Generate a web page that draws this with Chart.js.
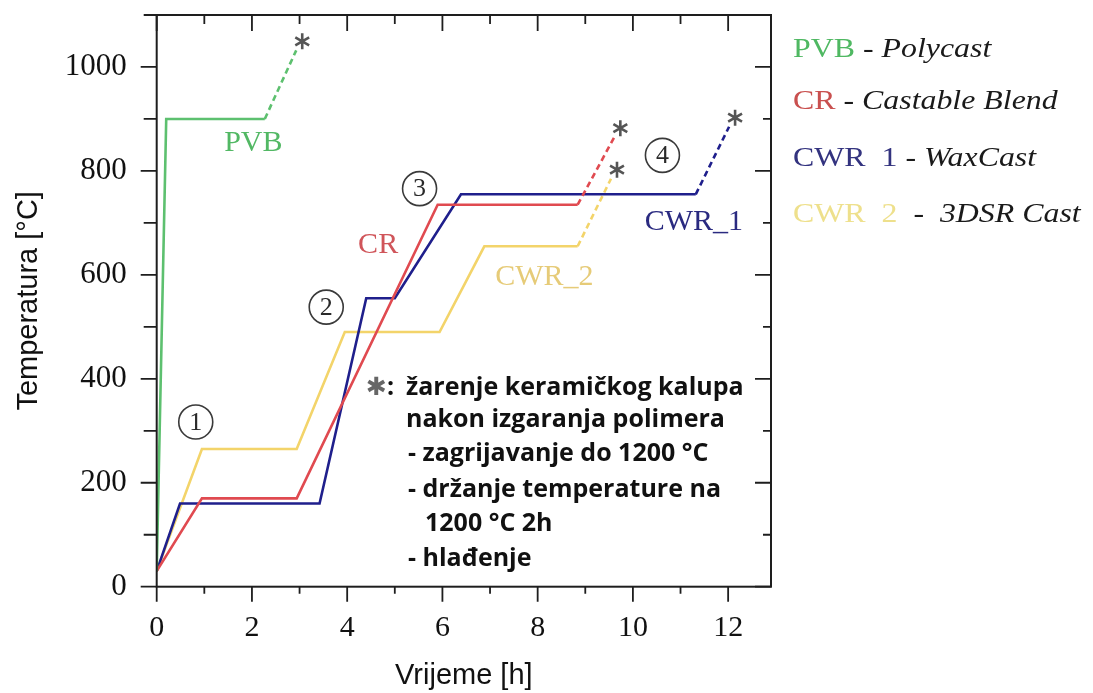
<!DOCTYPE html>
<html><head><meta charset="utf-8">
<script src="https://cdn.jsdelivr.net/npm/chart.js@4.4.1/dist/chart.umd.min.js"></script>
<style>
html,body{margin:0;padding:0;background:#fff;width:1093px;height:693px;overflow:hidden}
#wrap{position:relative;width:1093px;height:693px}
canvas{position:absolute;left:0;top:0}
.lg{position:absolute;left:793px;font-family:"Liberation Serif",serif;font-size:27px;color:#1a1a1a;white-space:nowrap;line-height:32px;transform:scaleX(1.18);transform-origin:0 50%}
.lg i{font-style:italic}
.nt{position:absolute;font-family:"Open Sans",sans-serif;font-weight:700;font-size:25px;color:#111;white-space:nowrap;line-height:30px}
</style></head>
<body><div id="wrap"><canvas id="c" width="1093" height="693"></canvas>
<div class="lg" style="top:32px"><span style="color:#4FB862">PVB</span> - <i>Polycast</i></div>
<div class="lg" style="top:84px"><span style="color:#C9504F">CR</span> - <i>Castable Blend</i></div>
<div class="lg" style="top:141px"><span style="color:#33337F">CWR&nbsp;&nbsp;1</span> - <i>WaxCast</i></div>
<div class="lg" style="top:197px"><span style="color:#EEE08C">CWR&nbsp;&nbsp;2</span>&nbsp;&nbsp;- &nbsp;<i>3DSR Cast</i></div>
<div class="nt" style="left:366px;top:370px"><span style="color:#666;font-family:'DejaVu Sans'">✱</span>:</div>
<div class="nt" style="left:406px;top:370px">žarenje keramičkog kalupa</div>
<div class="nt" style="left:406px;top:402px">nakon izgaranja polimera</div>
<div class="nt" style="left:408px;top:436px">- zagrijavanje do 1200 °C</div>
<div class="nt" style="left:408px;top:472px">- držanje temperature na</div>
<div class="nt" style="left:425px;top:506px">1200 °C 2h</div>
<div class="nt" style="left:408px;top:541px">- hlađenje</div>
</div>
<script>
// ---- data (time in h, temperature in °C) ----
const seriesNames = ["PVB", "CR", "CWR_1", "CWR_2"];
const pvbTime  = [0, 0.2, 2.27, 2.93];
const pvbTemp  = [30, 900, 900, 1032];
const crTime   = [0, 0.95, 2.94, 5.9, 8.84, 9.61];
const crTemp   = [30, 170, 170, 735, 735, 865];
const cwr1Time = [0, 0.49, 3.42, 4.4, 5.0, 6.39, 11.32, 12.02];
const cwr1Temp = [30, 160, 160, 555, 555, 755, 755, 885];
const cwr2Time = [0, 0.95, 2.94, 3.95, 5.94, 6.88, 8.84, 9.54];
const cwr2Temp = [30, 265, 265, 490, 490, 655, 655, 785];
const xTickLabels = [0, 2, 4, 6, 8, 10, 12];
const yTickLabels = [0, 200, 400, 600, 800, 1000];
const stepMarks = ["1", "2", "3", "4"];

// annotation placement (data coordinates)
const seriesLabelPos = [[2.03, 853], [4.65, 657], [11.28, 702], [8.14, 596]];
const stepMarkPos = [[0.82, 317], [3.56, 538], [5.52, 766], [10.62, 830]];

const lineColors  = ["#5DC06F", "#E04A50", "#1F1F8C", "#F3D46A"];
const labelColors = ["#52B864", "#D0555A", "#2A2A80", "#E6CB78"];

function pts(t, v){ return t.map((x,i)=>({x, y:v[i]})); }
const seriesData = [pts(pvbTime,pvbTemp), pts(crTime,crTemp), pts(cwr1Time,cwr1Temp), pts(cwr2Time,cwr2Temp)];

const dashLast = c => {
  const n = c.chart.data.datasets[c.datasetIndex].data.length;
  return c.p1DataIndex === n - 1 ? [6, 4] : undefined;
};

const extras = {
  id: 'extras',
  afterDatasetsDraw(chart){
    const {ctx, chartArea:a, scales:{x, y}} = chart;
    ctx.save();
    // frame
    ctx.strokeStyle = '#1e1e1e'; ctx.lineWidth = 2;
    ctx.strokeRect(a.left, a.top, a.right - a.left, a.bottom - a.top);
    // ticks
    ctx.lineWidth = 1.8;
    for (let h = 0; h <= 12; h++) {
      const px = x.getPixelForValue(h);
      const major = h % 2 === 0;
      ctx.beginPath();
      ctx.moveTo(px, a.bottom); ctx.lineTo(px, a.bottom + (major ? 15 : 7));
      ctx.moveTo(px, a.top); ctx.lineTo(px, a.top + (major ? 16 : 9));
      ctx.stroke();
    }
    for (let t = 0; t <= 1100; t += 100) {
      const py = y.getPixelForValue(t);
      const major = t % 200 === 0;
      ctx.beginPath();
      ctx.moveTo(a.left, py); ctx.lineTo(a.left - (major ? 16 : 13), py);
      ctx.moveTo(a.right, py); ctx.lineTo(a.right - (major ? 16 : 8), py);
      ctx.stroke();
    }
    // asterisks at dashed ends
    chart.data.datasets.forEach((ds, i) => {
      const meta = chart.getDatasetMeta(i);
      const el = meta.data[meta.data.length - 1];
      const cx = el.x + 6, cy = el.y - 9, r = 8;
      ctx.strokeStyle = '#555'; ctx.lineWidth = 2.6;
      ctx.beginPath();
      for (let k = 0; k < 3; k++) {
        const ang = Math.PI / 2 + k * Math.PI / 3;
        ctx.moveTo(cx + r * Math.cos(ang), cy + r * Math.sin(ang));
        ctx.lineTo(cx - r * Math.cos(ang), cy - r * Math.sin(ang));
      }
      ctx.stroke();
    });
    // series labels
    ctx.font = '30px "Liberation Serif", serif';
    ctx.textAlign = 'center'; ctx.textBaseline = 'middle';
    seriesNames.forEach((n, i) => {
      ctx.fillStyle = labelColors[i];
      ctx.fillText(n, x.getPixelForValue(seriesLabelPos[i][0]), y.getPixelForValue(seriesLabelPos[i][1]));
    });
    // circled step marks
    ctx.font = '26px "Liberation Serif", serif';
    stepMarks.forEach((m, i) => {
      const cx = x.getPixelForValue(stepMarkPos[i][0]), cy = y.getPixelForValue(stepMarkPos[i][1]);
      ctx.strokeStyle = '#3a3a3a'; ctx.lineWidth = 1.6;
      ctx.beginPath(); ctx.arc(cx, cy, 17, 0, Math.PI * 2); ctx.stroke();
      ctx.fillStyle = '#2a2a2a';
      ctx.fillText(m, cx, cy + 1);
    });
    ctx.restore();
  }
};

new Chart(document.getElementById('c'), {
  type: 'line',
  data: {
    datasets: seriesNames.map((n, i) => ({
      label: n, data: seriesData[i], borderColor: lineColors[i], backgroundColor: lineColors[i],
      borderWidth: 2.6, pointRadius: 0, tension: 0, fill: false,
      segment: { borderDash: dashLast }
    }))
  },
  options: {
    responsive: false, animation: false, devicePixelRatio: 1,
    layout: { padding: { left: 0, right: 322, top: 15, bottom: 0 } },
    plugins: { legend: { display: false }, tooltip: { enabled: false } },
    scales: {
      x: {
        type: 'linear', min: 0, max: 12.9,
        afterBuildTicks: s => { s.ticks = xTickLabels.map(v => ({ value: v })); },
        afterFit: s => { s.height = 106.3; s.paddingLeft = 0; s.paddingRight = 0; },
        grid: { display: false, drawTicks: false }, border: { display: false },
        ticks: { padding: 23, color: '#111', maxRotation: 0, autoSkip: false, callback: v => String(v),
                 font: { family: '"Liberation Serif", serif', size: 30 } },
        title: { display: true, text: 'Vrijeme [h]', color: '#111', padding: { top: 0, bottom: 0 },
                 font: { family: '"Liberation Sans", sans-serif', size: 29 } }
      },
      y: {
        type: 'linear', min: 0, max: 1100,
        afterBuildTicks: s => { s.ticks = yTickLabels.map(v => ({ value: v })); },
        afterFit: s => { s.width = 156.7; s.paddingTop = 0; s.paddingBottom = 0; },
        grid: { display: false, drawTicks: false }, border: { display: false },
        ticks: { padding: 30, color: '#111', autoSkip: false, callback: v => String(v),
                 font: { family: '"Liberation Serif", serif', size: 31 } },
        title: { display: true, text: 'Temperatura [°C]', color: '#111', padding: { top: 12, bottom: 0 },
                 font: { family: '"Liberation Sans", sans-serif', size: 29 } }
      }
    }
  },
  plugins: [extras]
});
</script>
</body></html>
